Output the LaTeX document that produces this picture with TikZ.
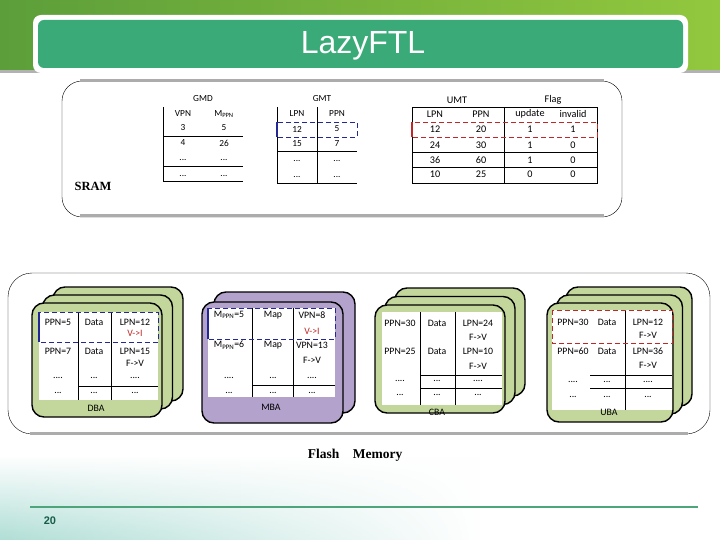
\documentclass[tikz,border=0pt]{standalone}
\usepackage{fontspec}
\usepackage{xcolor}
\setmainfont{Carlito}
\newfontfamily\hdfont{Liberation Sans}
\newfontfamily\serfont{Liberation Serif}
\usetikzlibrary{fadings}

\definecolor{blkgreen}{RGB}{195,214,155}
\definecolor{blkpurple}{RGB}{178,162,204}
\definecolor{titlelite}{RGB}{58,170,120}
\definecolor{titledark}{RGB}{12,74,62}
\definecolor{bannerL}{RGB}{92,158,58}
\definecolor{bannerR}{RGB}{146,200,62}
\definecolor{cloud}{RGB}{176,222,214}
\definecolor{rulegreen}{RGB}{78,165,124}
\definecolor{pagenum}{RGB}{22,92,72}
\definecolor{markblue}{RGB}{36,40,150}
\definecolor{markred}{RGB}{192,40,40}

\newcommand\tdots{...}
\newcommand\qdots{....}

\tikzfading[name=fadeR, left color=transparent!0, right color=transparent!100]

\tikzset{
  cell/.style={font=\fontsize{9.8}{11}\selectfont, inner sep=0pt},
  tcell/.style={font=\fontsize{9.3}{10}\selectfont, inner sep=0pt},
  ucell/.style={font=\fontsize{10.2}{11}\selectfont, inner sep=0pt},
  blk/.style={draw=black, line width=1.4pt, rounded corners=12pt},
  grid/.style={line width=0.8pt},
  bluebox/.style={draw=markblue, thick, dash pattern=on 5pt off 3pt},
  redbox/.style={draw=markred, thick, dash pattern=on 5pt off 3pt},
  bigserif/.style={font=\serfont\bfseries\fontsize{12.5}{14}\selectfont, inner sep=0pt}
}

\begin{document}
\begin{tikzpicture}[x=1pt, y=-1pt]
  \useasboundingbox (0,0) rectangle (720,540);
  % slide backdrop
  \fill[white] (0,0) rectangle (720,540);
  \shade[left color=bannerL, right color=bannerR] (0,0) rectangle (720,72);
  \shade[top color=white, bottom color=cloud, path fading=fadeR] (0,455) rectangle (480,540);
  \draw[gray!60, line width=3pt] (0,72) -- (720,72);
  \draw[rulegreen, line width=2.5pt] (30,507) -- (698,507);
  \node[font=\hdfont\bfseries\fontsize{11}{12}\selectfont, text=pagenum] (pageno) at (50,521) {20};
  % title bar
  \fill[white, rounded corners=8pt] (33,15) rectangle (688,73);
  \shade[left color=titlelite, middle color=titledark, right color=titlelite, rounded corners=6pt] (38,20) rectangle (683,68);
  \node[font=\hdfont\fontsize{32}{34}\selectfont, text=white] (title) at (363,46) {LazyFTL};

  % SRAM
  \draw[thin, rounded corners=20pt] (62,81) rectangle (622,217);
  \draw[gray!65, line width=3pt] (80,81) -- (604,81);
  \draw[gray!65, line width=3pt] (80,216) -- (604,216);
  \node[bigserif] (sram) at (93,186) {SRAM};

  % GMD
  \node[tcell] (gmd) at (203,99) {GMD};
  \draw[grid] (163,107) -- (163,181);
  \foreach \y in {136,166,181}
    \draw[grid] (163,\y) -- (243,\y);
  \foreach \y/\a/\b [count=\i] in {114/VPN/M\textsubscript{PPN}, 128/3/5, 143/4/26, 160/\tdots/\tdots, 176/\tdots/\tdots}{
    \node[tcell] (gmd-\i-1) at (183,\y) {\a};
    \node[tcell] (gmd-\i-2) at (224,\y) {\b};
  }

  % GMT
  \node[tcell] (gmt) at (322,99) {GMT};
  \draw[grid] (277,107) -- (277,122);
  \draw[grid] (277,137) -- (277,183);
  \draw[grid] (317,107) -- (317,183);
  \foreach \y in {151,183}
    \draw[grid] (277,\y) -- (357,\y);
  \draw[bluebox] (277,122) rectangle (357,137);
  \draw[markblue, line width=2.5pt] (277,122) -- (277,137);
  \foreach \y/\a/\b [count=\i] in {114/LPN/PPN, 129/12/5, 144/15/7, 161/\tdots/\tdots, 177/\tdots/\tdots}{
    \node[tcell] (gmt-\i-1) at (297,\y) {\a};
    \node[tcell] (gmt-\i-2) at (337,\y) {\b};
  }

  % UMT and flags
  \node[ucell] (umt) at (457,100) {UMT};
  \node[ucell] (flag) at (553,100) {Flag};
  \draw[grid] (412,107) rectangle (597,183);
  \draw[grid] (504,107) -- (504,183);
  \foreach \y in {152,167}
    \draw[grid] (412,\y) -- (597,\y);
  \draw[redbox] (412,122) rectangle (597,137);
  \draw[markred, line width=2.5pt] (412,122) -- (412,137);
  \foreach \y/\a/\b/\c/\d [count=\i] in {114/LPN/PPN/update/invalid, 129/12/20/1/1, 145/24/30/1/0, 160/36/60/1/0, 174/10/25/0/0}{
    \node[ucell] (umt-\i-1) at (435,\y) {\a};
    \node[ucell] (umt-\i-2) at (481,\y) {\b};
    \node[ucell] (umt-\i-3) at (530,\y) {\c};
    \node[ucell] (umt-\i-4) at (573,\y) {\d};
  }

  % Flash memory
  \draw[thin, rounded corners=24pt] (8,273) rectangle (710,434);
  \draw[gray!65, line width=3pt] (30,433) -- (688,433);
  \node[bigserif, font=\serfont\bfseries\fontsize{13.5}{15}\selectfont] (flash) at (355,455) {Flash\quad Memory};

  % DBA
  \foreach \s in {2,1,0}
    \draw[blk, fill=blkgreen, xshift={\s*10.5pt}, yshift={\s*8pt}] (32,303) rectangle (162,417);
  \fill[white] (39,312) rectangle (158,400);
  \foreach \x in {78,111}
    \draw[grid] (\x,312) -- (\x,400);
  \draw[grid] (78,386) -- (158,386);
  \draw[bluebox] (39,312) rectangle (158,342);
  \draw[markblue, line width=2.5pt] (39,312) -- (39,342);
  \foreach \y/\a/\b/\c [count=\i] in {322/PPN=5/Data/LPN=12, 351/PPN=7/Data/LPN=15, 378/\qdots/\tdots/\qdots, 393/\tdots/\tdots/\tdots}{
    \node[cell] (dba-\i-1) at (58,\y) {\a};
    \node[cell] (dba-\i-2) at (94,\y) {\b};
    \node[cell] (dba-\i-3) at (135,\y) {\c};
  }
  \node[cell, text=markred] (dba-st1) at (135,333) {V->I};
  \node[cell] (dba-st2) at (135,363) {F->V};
  \node[cell] (dba) at (96,408) {DBA};

  % MBA
  \foreach \s in {1,0}
    \draw[blk, fill=blkpurple, xshift={\s*12pt}, yshift={\s*10pt}] (202,302) rectangle (343,423);
  \fill[white] (208,308) rectangle (335,397);
  \foreach \x in {252,293}
    \draw[grid] (\x,308) -- (\x,397);
  \draw[grid] (252,385) -- (335,385);
  \draw[bluebox] (208,308) rectangle (335,339);
  \draw[markblue, line width=2.5pt] (208,308) -- (208,339);
  \foreach \y/\a/\b/\c [count=\i] in {315/M\textsubscript{PPN}=5/Map/VPN=8, 345/M\textsubscript{PPN}=6/Map/VPN=13, 378/\qdots/\tdots/\qdots, 393/\tdots/\tdots/\tdots}{
    \node[cell] (mba-\i-1) at (229,\y) {\a};
    \node[cell] (mba-\i-2) at (273,\y) {\b};
    \node[cell] (mba-\i-3) at (312,\y) {\c};
  }
  \node[cell, text=markred] (mba-st1) at (312,331) {V->I};
  \node[cell] (mba-st2) at (312,360) {F->V};
  \node[cell] (mba) at (271,407) {MBA};

  % CBA
  \foreach \s in {2,1,0}
    \draw[blk, fill=blkgreen, xshift={\s*10pt}, yshift={\s*8.5pt}] (375,305) rectangle (505,413);
  \fill[white] (382,312) rectangle (502,405);
  \foreach \x in {420,455}
    \draw[grid] (\x,312) -- (\x,405);
  \foreach \y in {375,388}
    \draw[grid] (420,\y) -- (502,\y);
  \foreach \y/\a/\b/\c [count=\i] in {323/PPN=30/Data/LPN=24, 351/PPN=25/Data/LPN=10, 381/\qdots/\tdots/\qdots, 395/\tdots/\tdots/\tdots}{
    \node[cell] (cba-\i-1) at (400,\y) {\a};
    \node[cell] (cba-\i-2) at (437,\y) {\b};
    \node[cell] (cba-\i-3) at (478,\y) {\c};
  }
  \node[cell] (cba-st1) at (478,337) {F->V};
  \node[cell] (cba-st2) at (478,366) {F->V};
  \node[cell] (cba) at (437,412) {CBA};

  % UBA
  \foreach \s in {2,1,0}
    \draw[blk, fill=blkgreen, xshift={\s*9.5pt}, yshift={\s*8pt}] (547,303) rectangle (673,422);
  \fill[white] (552,310) rectangle (672,410);
  \draw[grid] (625,310) -- (625,410);
  \foreach \y in {375,388}
    \draw[grid] (590,\y) -- (672,\y);
  \draw[redbox] (552,310) rectangle (672,343);
  \foreach \y/\a/\b/\c [count=\i] in {322/PPN=30/Data/LPN=12, 351/PPN=60/Data/LPN=36, 382/\qdots/\tdots/\qdots, 397/\tdots/\tdots/\tdots}{
    \node[cell] (uba-\i-1) at (573,\y) {\a};
    \node[cell] (uba-\i-2) at (607,\y) {\b};
    \node[cell] (uba-\i-3) at (648,\y) {\c};
  }
  \node[cell] (uba-st1) at (648,335) {F->V};
  \node[cell] (uba-st2) at (648,365) {F->V};
  \node[cell] (uba) at (609,412) {UBA};
\end{tikzpicture}
\end{document}
